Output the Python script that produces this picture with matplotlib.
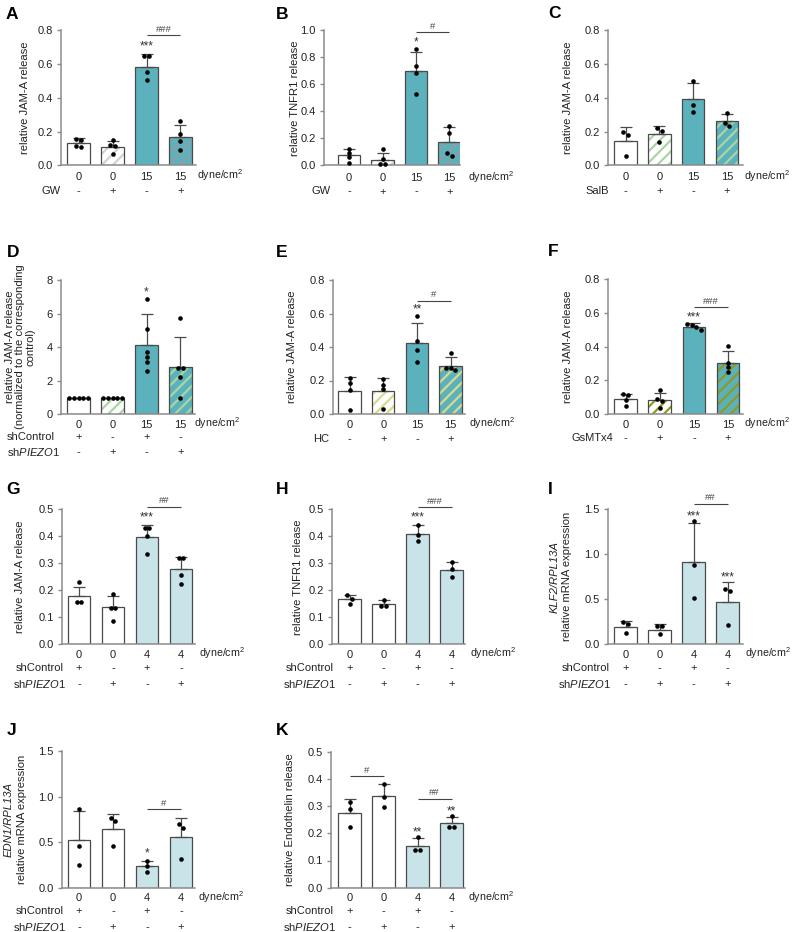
import numpy as np
import matplotlib
matplotlib.use('Agg')
import matplotlib.pyplot as plt
from matplotlib import transforms

plt.rcParams['font.family'] = ['Liberation Sans', 'DejaVu Sans']
plt.rcParams['mathtext.fontset'] = 'custom'
plt.rcParams['mathtext.rm'] = 'Liberation Sans'
plt.rcParams['mathtext.it'] = 'Liberation Sans:italic'
plt.rcParams['hatch.linewidth'] = 1.6

# ---------------- data ----------------
shear15 = ["0", "0", "15", "15"]
shear4 = ["0", "0", "4", "4"]
treat_signs = ["-", "+", "-", "+"]
ctrl_signs = ["+", "-", "+", "-"]
piezo_signs = ["-", "+", "-", "+"]

A_means = [0.130, 0.110, 0.585, 0.168]
A_sd = [0.030, 0.034, 0.073, 0.071]
A_pts = [[0.155, 0.150, 0.110, 0.115], [0.150, 0.120, 0.115, 0.065],
         [0.648, 0.648, 0.551, 0.506], [0.261, 0.186, 0.142, 0.091]]

B_means = [0.074, 0.037, 0.700, 0.170]
B_sd = [0.049, 0.057, 0.140, 0.114]
B_pts = [[0.123, 0.089, 0.059, 0.015], [0.119, 0.044, 0.007, 0.007],
         [0.864, 0.736, 0.686, 0.531], [0.291, 0.242, 0.089, 0.069]]

C_means = [0.146, 0.186, 0.391, 0.261]
C_sd = [0.081, 0.047, 0.095, 0.043]
C_pts = [[0.198, 0.182, 0.057], [0.223, 0.204, 0.140],
         [0.498, 0.356, 0.316], [0.308, 0.249, 0.233]]

D_means = [1.0, 1.0, 4.11, 2.84]
D_sd = [0.0, 0.0, 1.84, 1.78]
D_pts = [[1, 1, 1, 1, 1], [1, 1, 1, 1, 1],
         [6.88, 5.06, 3.71, 3.43, 3.13, 2.58], [5.73, 2.74, 2.74, 2.20, 0.97]]

E_means = [0.140, 0.137, 0.426, 0.289]
E_sd = [0.083, 0.076, 0.115, 0.049]
E_pts = [[0.217, 0.183, 0.145, 0.024], [0.207, 0.175, 0.147, 0.032],
         [0.583, 0.436, 0.380, 0.312], [0.362, 0.275, 0.273, 0.263]]

F_means = [0.087, 0.083, 0.515, 0.305]
F_sd = [0.032, 0.044, 0.024, 0.069]
F_pts = [[0.119, 0.115, 0.083, 0.050], [0.143, 0.087, 0.075, 0.038],
         [0.537, 0.527, 0.515, 0.499], [0.402, 0.305, 0.279, 0.248]]

G_means = [0.179, 0.137, 0.396, 0.279]
G_sd = [0.035, 0.042, 0.046, 0.046]
G_pts = [[0.230, 0.157, 0.157], [0.185, 0.135, 0.135, 0.088],
         [0.430, 0.430, 0.401, 0.336], [0.319, 0.319, 0.257, 0.225]]

H_means = [0.166, 0.149, 0.408, 0.277]
H_sd = [0.016, 0.015, 0.033, 0.026]
H_pts = [[0.182, 0.167, 0.148], [0.163, 0.143, 0.143],
         [0.441, 0.404, 0.381], [0.303, 0.278, 0.248]]

I_means = [0.196, 0.163, 0.920, 0.465]
I_sd = [0.063, 0.059, 0.432, 0.222]
I_pts = [[0.244, 0.229, 0.122], [0.207, 0.203, 0.115],
         [1.370, 0.876, 0.520], [0.610, 0.590, 0.220]]

J_means = [0.526, 0.640, 0.237, 0.556]
J_sd = [0.314, 0.164, 0.059, 0.211]
J_pts = [[0.867, 0.463, 0.252], [0.760, 0.730, 0.460],
         [0.296, 0.240, 0.174], [0.700, 0.660, 0.315]]

K_means = [0.273, 0.336, 0.153, 0.237]
K_sd = [0.052, 0.044, 0.028, 0.023]
K_pts = [[0.315, 0.290, 0.222], [0.382, 0.332, 0.295],
         [0.185, 0.137, 0.137], [0.263, 0.225, 0.225]]

# significance marks: (bar, y, text) and (bar_i, bar_j, y, text)
A_stars = [(2, 0.72, "***")]; A_br = [(2, 3, 0.77, "###")]
B_stars = [(2, 0.93, "*")]; B_br = [(2, 3, 0.985, "#")]
C_stars = []; C_br = []
D_stars = [(2, 7.45, "*")]; D_br = []
E_stars = [(2, 0.645, "**")]; E_br = [(2, 3, 0.677, "#")]
F_stars = [(2, 0.594, "***")]; F_br = [(2, 3, 0.634, "###")]
G_stars = [(2, 0.483, "***")]; G_br = [(2, 3, 0.509, "##")]
H_stars = [(2, 0.480, "***")]; H_br = [(2, 3, 0.507, "###")]
I_stars = [(2, 1.45, "***"), (3, 0.78, "***")]; I_br = [(2, 3, 1.56, "##")]
J_stars = [(2, 0.41, "*")]; J_br = [(2, 3, 0.86, "#")]
K_stars = [(2, 0.215, "**"), (3, 0.29, "**")]; K_br = [(0, 1, 0.41, "#"), (2, 3, 0.327, "##")]

# ---------------- style ----------------
TEAL = "#5cb2bc"
LBLUE = "#c8e4e9"
EDGE = "#4a4a4a"
SPINE = "#8c8c8c"
TXT = "#222222"
FS = 8.0      # tick / row labels
FSL = 8.1     # axis labels
FSD = 7.7     # dyne/cm2

W, H = 793, 932
fig = plt.figure(figsize=(W / 100, H / 100), dpi=100)


def fx(px):
    return px / W


def fy(py):
    return 1 - py / H


def jitter(vals, tol):
    vals = np.asarray(vals, float)
    order = np.argsort(-vals)
    off = np.zeros(len(vals))
    groups, cur = [], [order[0]]
    for i in order[1:]:
        if abs(vals[i] - vals[cur[-1]]) < tol:
            cur.append(i)
        else:
            groups.append(cur)
            cur = [i]
    groups.append(cur)
    for grp in groups:
        n = len(grp)
        for k, idx in enumerate(grp):
            off[idx] = (k - (n - 1) / 2) * 0.14
    return off


def panel(letter, geo, means, sds, pts, ymax, ystep, fmt, faces, hcols,
          stars, brs, shear, tick_y, dyne_xy, rows, ylabels):
    x0, x1, yt, yb, c0, sp = geo
    ax = fig.add_axes([fx(x0), fy(yb), (x1 - x0) / W, (yb - yt) / H])
    left = -(c0 - x0) / sp
    right = 3 + (x1 - (c0 + 3 * sp)) / sp
    ax.set_xlim(left, right)
    ax.set_ylim(0, ymax)
    xs = np.arange(4)
    bw = 22.5 / sp
    for i in range(4):
        if hcols[i] is not None:
            ax.bar(xs[i], means[i], bw, color=faces[i], edgecolor=hcols[i],
                   hatch="///", linewidth=0, zorder=2)
        else:
            ax.bar(xs[i], means[i], bw, color=faces[i], linewidth=0, zorder=2)
        ax.bar(xs[i], means[i], bw, fill=False, edgecolor=EDGE,
               linewidth=0.9, zorder=2.5)
        if sds[i] > 0:
            ax.errorbar(xs[i], means[i], yerr=[[0], [sds[i]]], fmt="none",
                        ecolor=EDGE, elinewidth=0.9, capsize=4.3,
                        capthick=0.9, zorder=3)
        off = jitter(pts[i], 0.03 * ymax)
        ax.plot(xs[i] + off, pts[i], "o", color="black", ms=3.3,
                mec="none", zorder=4, clip_on=False)
    for (b, yv, t) in stars:
        ax.annotate(t, xy=(b, yv), xytext=(0, -2.2), textcoords="offset points",
                    ha="center", va="center", fontsize=8.5, color="#333333",
                    annotation_clip=False)
    for (i, j, yv, t) in brs:
        ax.plot([i, j], [yv, yv], color="#444444", lw=0.8, clip_on=False,
                solid_capstyle="butt")
        ax.annotate(t, xy=((i + j) / 2, yv), xytext=(0, 1.2),
                    textcoords="offset points", ha="center", va="bottom",
                    fontsize=6.8, color="#444444", annotation_clip=False)
    for s in ["top", "right"]:
        ax.spines[s].set_visible(False)
    for s in ["left", "bottom"]:
        ax.spines[s].set_color(SPINE)
        ax.spines[s].set_linewidth(1.1)
    ticks = np.arange(0, ymax + ystep / 2, ystep)
    ax.set_yticks(ticks)
    ax.set_yticklabels([fmt.format(t) for t in ticks])
    ax.tick_params(axis="y", length=3, width=1, color=SPINE, pad=3,
                   labelsize=FS, labelcolor=TXT)
    ax.set_xticks([])
    ax.patch.set_alpha(0)
    tr = transforms.blended_transform_factory(ax.transData, fig.transFigure)
    for i in range(4):
        ax.text(xs[i], fy(tick_y), shear[i], transform=tr, ha="center",
                va="center", fontsize=FS, color=TXT)
    fig.text(fx(dyne_xy[0]), fy(dyne_xy[1]), r"dyne/cm$^{2}$", ha="left",
             va="center", fontsize=FSD, color=TXT)
    for (lab, lx, ly, signs) in rows:
        fig.text(fx(lx), fy(ly), lab, ha="left", va="center", fontsize=FS,
                 color=TXT)
        for i in range(4):
            ax.text(xs[i], fy(ly), signs[i], transform=tr, ha="center",
                    va="center", fontsize=FS, color=TXT)
    cy = (yt + yb) / 2
    for (txt, lx, style) in ylabels:
        fig.text(fx(lx), fy(cy), txt, rotation=90, ha="center", va="center",
                 fontsize=FSL, color=TXT, style=style, multialignment="center",
                 linespacing=1.02)
    fig.text(fx(geo_letter[letter][0]), fy(geo_letter[letter][1]), letter,
             ha="left", va="top", fontsize=12.5, fontweight="bold",
             color="black")
    return ax


geo_letter = {"A": (6, 7), "B": (276, 7), "C": (548, 6), "D": (7, 245),
              "E": (276, 245), "F": (548, 244), "G": (6, 482), "H": (276, 482),
              "I": (548, 482), "J": (7, 723), "K": (276, 723)}

W4 = ["white", "white", TEAL, TEAL]
LB4 = ["white", "white", LBLUE, LBLUE]
PIEZO = r"sh$\mathit{PIEZO1}$"

panel("A", (61, 196, 30.3, 165.3, 78.7, 33.9), A_means, A_sd, A_pts, 0.8, 0.2,
      "{:.1f}", W4, [None, "#d2d2d2", None, "#8e9ea2"], A_stars, A_br,
      shear15, 177.5, (197, 175.5), [("GW", 41, 191, treat_signs)],
      [("relative JAM-A release", 25, "normal")])

panel("B", (324, 460, 30.3, 165.3, 349, 33.5), B_means, B_sd, B_pts, 1.0, 0.2,
      "{:.1f}", W4, [None, "#d2d2d2", None, "#8e9ea2"], B_stars, B_br,
      shear15, 178, (468, 177), [("GW", 312, 191.5, treat_signs)],
      [("relative TNFR1 release", 295.5, "normal")])

panel("C", (608, 743, 30.3, 165.3, 625.5, 33.8), C_means, C_sd, C_pts, 0.8, 0.2,
      "{:.1f}", W4, [None, "#a9d6a2", None, "#a9d6a2"], C_stars, C_br,
      shear15, 177.5, (744, 176), [("SalB", 585, 191, treat_signs)],
      [("relative JAM-A release", 568, "normal")])

panel("D", (61, 195, 280, 414.3, 78.7, 33.9), D_means, D_sd, D_pts, 8, 2,
      "{:.0f}", W4, [None, "#a9d6a2", None, "#a9d6a2"], D_stars, D_br,
      shear15, 425, (194, 423),
      [("shControl", 7, 437, ctrl_signs), (PIEZO, 7, 452.5, piezo_signs)],
      [("relative JAM-A release\n(normalized to the corresponding\ncontrol)",
        20, "normal")])

panel("E", (333, 465, 280, 414, 349.5, 33.7), E_means, E_sd, E_pts, 0.8, 0.2,
      "{:.1f}", W4, [None, "#d8da8c", None, "#d8da8c"], E_stars, E_br,
      shear15, 425, (469, 423), [("HC", 313, 439, treat_signs)],
      [("relative JAM-A release", 292, "normal")])

panel("F", (608, 743, 279.5, 414, 625.5, 34.2), F_means, F_sd, F_pts, 0.8, 0.2,
      "{:.1f}", W4, [None, "#8f9a20", None, "#8f9a20"], F_stars, F_br,
      shear15, 425, (744, 423), [("GsMTx4", 571, 438, treat_signs)],
      [("relative JAM-A release", 568, "normal")])

panel("G", (62, 195, 509.3, 644.3, 79, 34), G_means, G_sd, G_pts, 0.5, 0.1,
      "{:.1f}", LB4, [None] * 4, G_stars, G_br, shear4, 655, (199, 653),
      [("shControl", 16, 668.3, ctrl_signs), (PIEZO, 13, 684, piezo_signs)],
      [("relative JAM-A release", 20, "normal")])

panel("H", (332, 465, 509.3, 644.3, 349.5, 34), H_means, H_sd, H_pts, 0.5, 0.1,
      "{:.1f}", LB4, [None] * 4, H_stars, H_br, shear4, 655, (470, 653),
      [("shControl", 286, 668.3, ctrl_signs), (PIEZO, 283, 684, piezo_signs)],
      [("relative TNFR1 release", 298, "normal")])

panel("I", (608, 743, 509.3, 644.3, 625.5, 34), I_means, I_sd, I_pts, 1.5, 0.5,
      "{:.1f}", LB4, [None] * 4, I_stars, I_br, shear4, 655, (745, 653),
      [("shControl", 562, 668.3, ctrl_signs), (PIEZO, 558, 684, piezo_signs)],
      [("KLF2/RPL13A", 555, "italic"), ("relative mRNA expression", 567, "normal")])

panel("J", (62, 195, 751, 887.7, 79, 34), J_means, J_sd, J_pts, 1.5, 0.5,
      "{:.1f}", LB4, [None] * 4, J_stars, J_br, shear4, 898, (198, 897),
      [("shControl", 16, 910.7, ctrl_signs), (PIEZO, 13, 927, piezo_signs)],
      [("EDN1/RPL13A", 9, "italic"), ("relative mRNA expression", 22, "normal")])

panel("K", (331, 465, 751.7, 887.7, 349.5, 34), K_means, K_sd, K_pts, 0.5, 0.1,
      "{:.1f}", LB4, [None] * 4, K_stars, K_br, shear4, 898, (468, 897),
      [("shControl", 286, 910.7, ctrl_signs), (PIEZO, 283, 927, piezo_signs)],
      [("relative Endothelin release", 290, "normal")])

fig.savefig("out.png", dpi=100)
